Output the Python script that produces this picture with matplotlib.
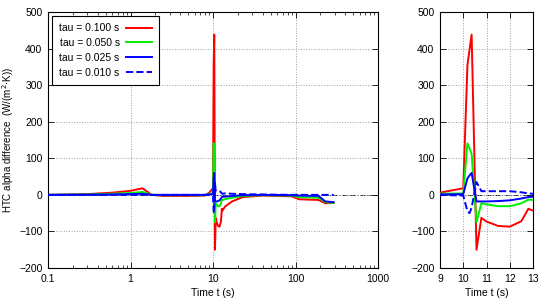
import numpy as np
import matplotlib
matplotlib.use('Agg')
import matplotlib.pyplot as plt
from matplotlib.ticker import LogLocator, NullFormatter

plt.rcParams['font.family'] = ['Liberation Sans', 'DejaVu Sans']
plt.rcParams['font.size'] = 7.5

# time samples (s)
t = [0.1, 0.3, 0.6, 1.0, 1.4, 1.8, 2.5, 5, 8, 9, 10, 10.18, 10.27, 10.36, 10.57,
     10.78, 11, 11.5, 12, 12.5, 12.8, 13, 14, 17, 23, 40, 90, 110, 190, 230, 290]

# HTC alpha difference for each tau
tau_100 = [0, 2, 6, 11, 18, 0, -3, -3, -2, 6, 18, 355, 397, 438, -150,
           -63, -73, -85, -87, -72, -38, -43, -32, -18, -6, -2, -4, -12, -14, -23, -22]
tau_050 = [0, 1, 3, 5, 8, 0, -1, -1, -1, 3, 4, 141, 127, 112, -75,
           -23, -26, -31, -31, -23, -13, -14, -12, -8, -3, -1, -2, -6, -8, -20, -22]
tau_025 = [0, 0.5, 1, 2, 3, 0, 0, 0, 0, 1, 2, 45, 53, 60, -18,
           -18, -18, -17, -15, -10, -6, -5, -5, -3, -1, 0, -1, -2, -3, -18, -20]
tau_010 = [0, 0, 0, 0, 0, 0, 0, 0, 0, 0, -2, -45, -50, -35, 35,
           10, 10, 10, 10, 7, 4, 3, 4, 3, 2, 1, 0, 0, 0, 0, 0]

labels = ['tau = 0.100 s', 'tau = 0.050 s', 'tau = 0.025 s', 'tau = 0.010 s']
colors = ['#ff0000', '#00ee00', '#0000ff', '#0000ff']
styles = ['-', '-', '-', '--']
series = [tau_100, tau_050, tau_025, tau_010]

fig = plt.figure(figsize=(5.5, 3.0), dpi=100)
ax1 = fig.add_axes([48/550, 1-268/300, 330/550, 256/300])
ax2 = fig.add_axes([440/550, 1-268/300, 93/550, 256/300])

for ax in (ax1, ax2):
    ax.axhline(0, color='black', lw=0.6, ls=(0, (6, 2, 1, 2)), zorder=1)
    for y, lab, c, s in zip(series, labels, colors, styles):
        ax.plot(t, y, color=c, ls=s, lw=1.4, label=lab, zorder=3)
    ax.set_ylim(-200, 500)
    ax.set_yticks(np.arange(-200, 501, 100))
    ax.grid(True, color='#a0a0a0', ls=':', lw=0.7)
    ax.tick_params(which='both', direction='in', top=True, right=True,
                   labelsize=7.5, pad=4)
    ax.tick_params(which='major', length=4, width=0.6)
    ax.tick_params(which='minor', length=2, width=0.5)
    for sp in ax.spines.values():
        sp.set_linewidth(0.8)
    ax.set_xlabel('Time t (s)', labelpad=3)

ax1.set_xscale('log')
ax1.set_xlim(0.1, 1000)
ax1.set_xticks([0.1, 1, 10, 100, 1000])
ax1.set_xticklabels(['0.1', '1', '10', '100', '1000'])
ax1.xaxis.set_minor_locator(LogLocator(base=10, subs=np.arange(2, 10)))
ax1.xaxis.set_minor_formatter(NullFormatter())
ax1.set_ylabel('HTC alpha difference  (W/(m$^2$$\\cdot$K))', fontsize=7)
ax1.yaxis.set_label_coords(-32/330, 0.5)

ax2.set_xlim(9, 13)
ax2.set_xticks([9, 10, 11, 12, 13])

leg = ax1.legend(loc='upper left', markerfirst=False, fancybox=False,
                 edgecolor='black', framealpha=1, handlelength=2.5,
                 handletextpad=0.6, borderpad=0.7, labelspacing=0.45,
                 borderaxespad=0.4, fontsize=7.5)
leg.get_frame().set_linewidth(0.8)

fig.savefig('out.png', dpi=100)
